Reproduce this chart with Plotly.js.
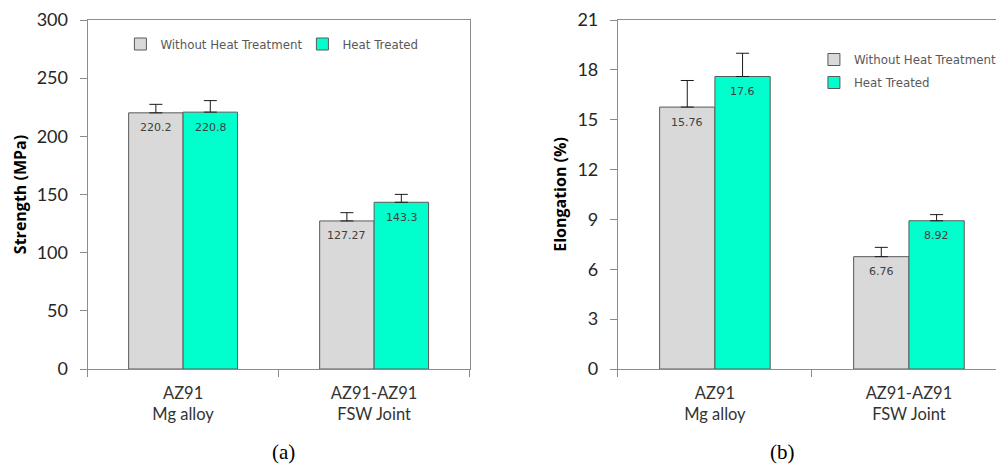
<!DOCTYPE html>
<html>
<head>
<meta charset="utf-8">
<script src="https://cdn.plot.ly/plotly-3.0.1.min.js"></script>
<style>html,body{margin:0;padding:0;background:#fff;}#chart{width:1001px;height:467px;}</style>
</head>
<body>
<div id="chart"></div>
<script>
// ---- data ----
var categories = ["AZ91<br>Mg alloy", "AZ91-AZ91<br>FSW Joint"];
var seriesNames = ["Without Heat Treatment", "Heat Treated"];
var strengthWithout = [220.2, 127.27];
var strengthHeat = [220.8, 143.3];
var strengthWithoutErr = [7.3, 7.1];
var strengthHeatErr = [9.9, 6.8];
var elongWithout = [15.76, 6.76];
var elongHeat = [17.6, 8.92];
var elongWithoutErr = [1.6, 0.56];
var elongHeatErr = [1.4, 0.37];
var strengthLabelsWithout = ["220.2", "127.27"];
var strengthLabelsHeat = ["220.8", "143.3"];
var elongLabelsWithout = ["15.76", "6.76"];
var elongLabelsHeat = ["17.6", "8.92"];

var grey = "#D9D9D9", green = "#00FFCC", outline = "#5A5A5A";
var axisGrey = "#8C8C8C";

function barTrace(y, err, name, color, xa, ya, legend, group, showlegend) {
  return {
    type: "bar", x: categories, y: y, name: name,
    xaxis: xa, yaxis: ya, legend: legend, legendgroup: group, showlegend: showlegend,
    marker: {color: color, line: {color: outline, width: 1}},
    error_y: {type: "data", symmetric: false, array: err, arrayminus: err.map(function(){return 0;}),
              color: "#1a1a1a", thickness: 1, width: 6.5},
    hoverinfo: "none"
  };
}

var data = [
  barTrace(strengthWithout, strengthWithoutErr, seriesNames[0], grey, "x", "y", "legend", "a", true),
  barTrace(strengthHeat, strengthHeatErr, seriesNames[1], green, "x", "y", "legend", "b", true),
  barTrace(elongWithout, elongWithoutErr, seriesNames[0], grey, "x2", "y2", "legend2", "c", true),
  barTrace(elongHeat, elongHeatErr, seriesNames[1], green, "x2", "y2", "legend2", "d", true)
];

var annotations = [];
function addLabels(vals, labels, xref, yref, shift) {
  for (var i = 0; i < vals.length; i++) {
    annotations.push({
      x: categories[i], y: vals[i], xref: xref, yref: yref, text: labels[i],
      showarrow: false, xshift: shift, yshift: -15, yanchor: "middle", xanchor: "center",
      font: {family: "DejaVu Sans", size: 11, color: "#404040"}
    });
  }
}
addLabels(strengthWithout, strengthLabelsWithout, "x", "y", -27.5);
addLabels(strengthHeat, strengthLabelsHeat, "x", "y", 27.5);
addLabels(elongWithout, elongLabelsWithout, "x2", "y2", -27.7);
addLabels(elongHeat, elongLabelsHeat, "x2", "y2", 27.7);

annotations.push({x: 285/1001, y: 1 - 452/467, xref: "paper", yref: "paper", text: "(a)", showarrow: false,
  xanchor: "center", yanchor: "middle", font: {family: "Liberation Serif", size: 21, color: "#000"}});
annotations.push({x: 786/1001, y: 1 - 452/467, xref: "paper", yref: "paper", text: "(b)", showarrow: false,
  xanchor: "center", yanchor: "middle", font: {family: "Liberation Serif", size: 21, color: "#000"}});

var yDom = [(467 - 369) / 467, (467 - 20) / 467];
var tickFont = {family: "Lato", size: 18, color: "#262626"};
var catFont = {family: "Lato", size: 16.5, color: "#333333"};
var titleFont = {family: "Open Sans", size: 16, color: "#000", weight: "bold"};
var legendFont = {family: "DejaVu Sans", size: 11.8, color: "#595959"};

function xAxis(domain, range, anchor) {
  return {
    domain: domain, range: range, anchor: anchor, type: "category",
    showline: true, linecolor: axisGrey, linewidth: 1, mirror: true,
    ticks: "outside", tickson: "boundaries", ticklen: 7, tickcolor: axisGrey,
    tickfont: catFont, showgrid: false, zeroline: false, ticklabelstandoff: 9, fixedrange: true
  };
}
function yAxis(range, dtick, title, anchor, mirror) {
  return {
    domain: yDom, range: range, dtick: dtick, tick0: 0, anchor: anchor,
    showline: true, linecolor: axisGrey, linewidth: 1, mirror: mirror,
    ticks: "outside", ticklen: 7, tickcolor: axisGrey, tickfont: tickFont,
    showgrid: false, zeroline: false, ticklabelstandoff: 8,
    title: {text: title, font: titleFont, standoff: 6}, fixedrange: true
  };
}

var layout = {
  width: 1001, height: 467,
  margin: {l: 0, r: 0, t: 0, b: 0},
  paper_bgcolor: "#fff", plot_bgcolor: "#fff",
  barmode: "group", bargap: 0.43, bargroupgap: 0,
  xaxis: xAxis([88 / 1001, 472 / 1001], [-0.5, 1.5], "y"),
  yaxis: yAxis([0, 300], 50, "Strength (MPa)", "x", true),
  xaxis2: xAxis([621 / 1001, 1], [-0.5, -0.5 + 380 / 195], "y2"),
  yaxis2: yAxis([0, 21], 3, "Elongation (%)", "x2", false),
  legend: {
    orientation: "h", x: 121 / 1001, xanchor: "left", y: 1 - 44 / 467, yanchor: "middle",
    font: legendFont, bgcolor: "rgba(0,0,0,0)", entrywidth: 137, traceorder: "normal"
  },
  legend2: {
    orientation: "v", x: 818 / 1001, xanchor: "left", y: 1 - 71 / 467, yanchor: "middle",
    font: legendFont, bgcolor: "rgba(0,0,0,0)", traceorder: "grouped", tracegroupgap: 4
  },
  annotations: annotations,
  showlegend: true
};

Plotly.newPlot("chart", data, layout, {staticPlot: true, displayModeBar: false});
</script>
</body>
</html>
